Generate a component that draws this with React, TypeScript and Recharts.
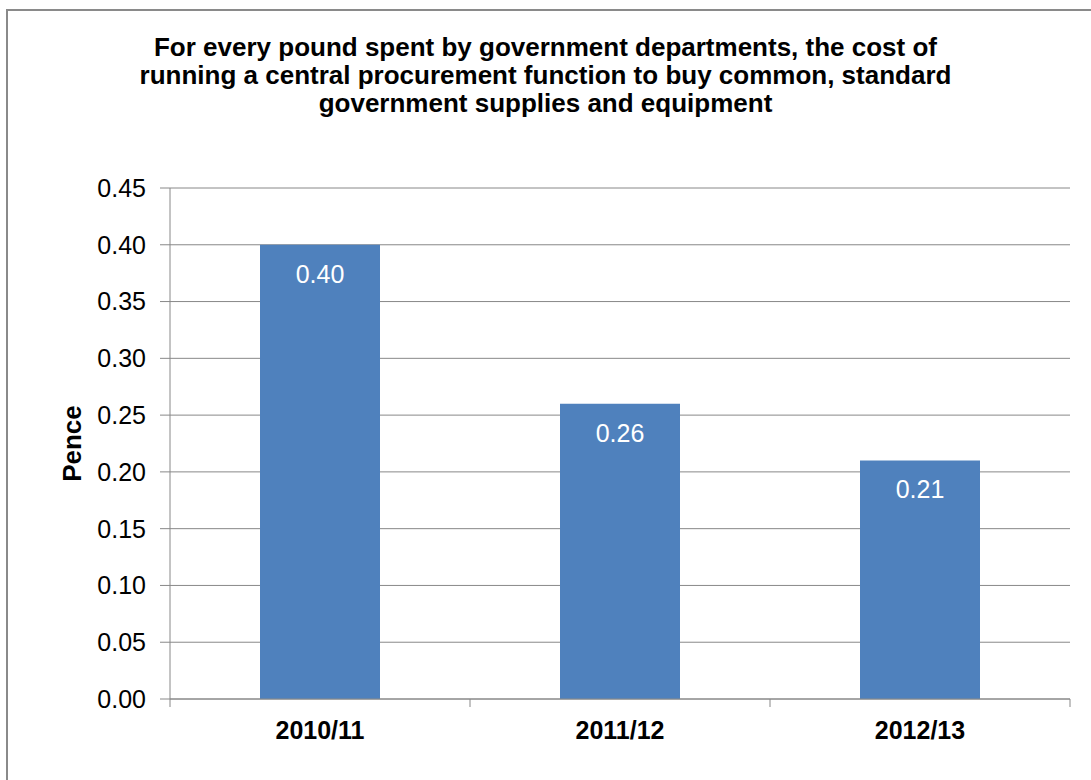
import React from "react";
import {
  BarChart,
  Bar,
  XAxis,
  YAxis,
  CartesianGrid,
  LabelList,
  Label,
} from "recharts";

const years = ["2010/11", "2011/12", "2012/13"];
const pence = [0.4, 0.26, 0.21];
const yTicks = [0, 0.05, 0.1, 0.15, 0.2, 0.25, 0.3, 0.35, 0.4, 0.45];
const titleLines = [
  "For every pound spent by government departments, the cost of",
  "running a central procurement function to buy common, standard",
  "government supplies and equipment",
];

const data = years.map((year, i) => ({ year, value: pence[i] }));

const W = 1091;
const H = 780;
const MARGIN = { top: 188, right: 21, bottom: 0, left: 0 };
const Y_AXIS_W = 170;
const X_AXIS_H = 81;
const FONT = '"Liberation Sans", Arial, sans-serif';
const GRID = "#888888";
const BAR = "#4f81bd";

const plotW = W - MARGIN.left - MARGIN.right - Y_AXIS_W;
const band = plotW / years.length;

function YearTick(props: any) {
  const { x, y, payload, index } = props;
  const top = y - 22; // axis line: tickSize 8 + tickMargin 14
  const half = band / 2;
  return (
    <g>
      <line x1={x - half} x2={x - half} y1={top} y2={top + 8} stroke={GRID} />
      {index === years.length - 1 && (
        <line x1={x + half} x2={x + half} y1={top} y2={top + 8} stroke={GRID} />
      )}
      <text
        x={x}
        y={y}
        dy="0.71em"
        textAnchor="middle"
        fontFamily={FONT}
        fontSize={25}
        fontWeight="bold"
        fill="#000"
      >
        {payload.value}
      </text>
    </g>
  );
}

function PenceLabel(props: any) {
  const { viewBox } = props;
  const cx = viewBox.x + viewBox.width / 2 - 13;
  const cy = viewBox.y + viewBox.height / 2;
  return (
    <text
      x={cx}
      y={cy}
      transform={`rotate(-90, ${cx}, ${cy})`}
      textAnchor="middle"
      dominantBaseline="central"
      fontFamily={FONT}
      fontSize={26}
      fontWeight="bold"
      fill="#000"
    >
      Pence
    </text>
  );
}

export default function App() {
  return (
    <div
      style={{
        position: "absolute",
        left: 0,
        top: 0,
        width: W,
        height: H,
        overflow: "hidden",
        background: "#fff",
        fontFamily: FONT,
      }}
    >
      <div
        style={{
          position: "absolute",
          left: 6,
          top: 9,
          width: 1100,
          height: 800,
          border: "2px solid #8a8a8a",
          boxSizing: "border-box",
        }}
      />

      <div
        style={{
          position: "absolute",
          left: 0,
          top: 33,
          width: W,
          textAlign: "center",
          fontSize: 26,
          lineHeight: "28px",
          fontWeight: "bold",
          color: "#000",
        }}
      >
        {titleLines.map((line) => (
          <div key={line}>{line}</div>
        ))}
      </div>

      <div style={{ position: "absolute", left: 0, top: 0 }}>
        <BarChart
          width={W}
          height={H}
          data={data}
          margin={MARGIN}
          barCategoryGap="30%"
        >
          <CartesianGrid vertical={false} stroke={GRID} />
          <XAxis
            dataKey="year"
            height={X_AXIS_H}
            stroke={GRID}
            tickLine={false}
            tickSize={8}
            tickMargin={14}
            tick={<YearTick />}
            interval={0}
          />
          <YAxis
            width={Y_AXIS_W}
            domain={[0, 0.45]}
            ticks={yTicks}
            tickFormatter={(v: number) => v.toFixed(2)}
            stroke={GRID}
            tickSize={10}
            tickMargin={14}
            tick={{ fill: "#000", fontSize: 25, fontFamily: FONT }}
            interval={0}
          >
            <Label content={<PenceLabel />} />
          </YAxis>
          <Bar dataKey="value" fill={BAR} isAnimationActive={false}>
            <LabelList
              dataKey="value"
              position="insideTop"
              offset={20}
              formatter={(v: any) => Number(v).toFixed(2)}
              fill="#fff"
              fontSize={25}
              fontFamily={FONT}
            />
          </Bar>
        </BarChart>
      </div>
    </div>
  );
}
